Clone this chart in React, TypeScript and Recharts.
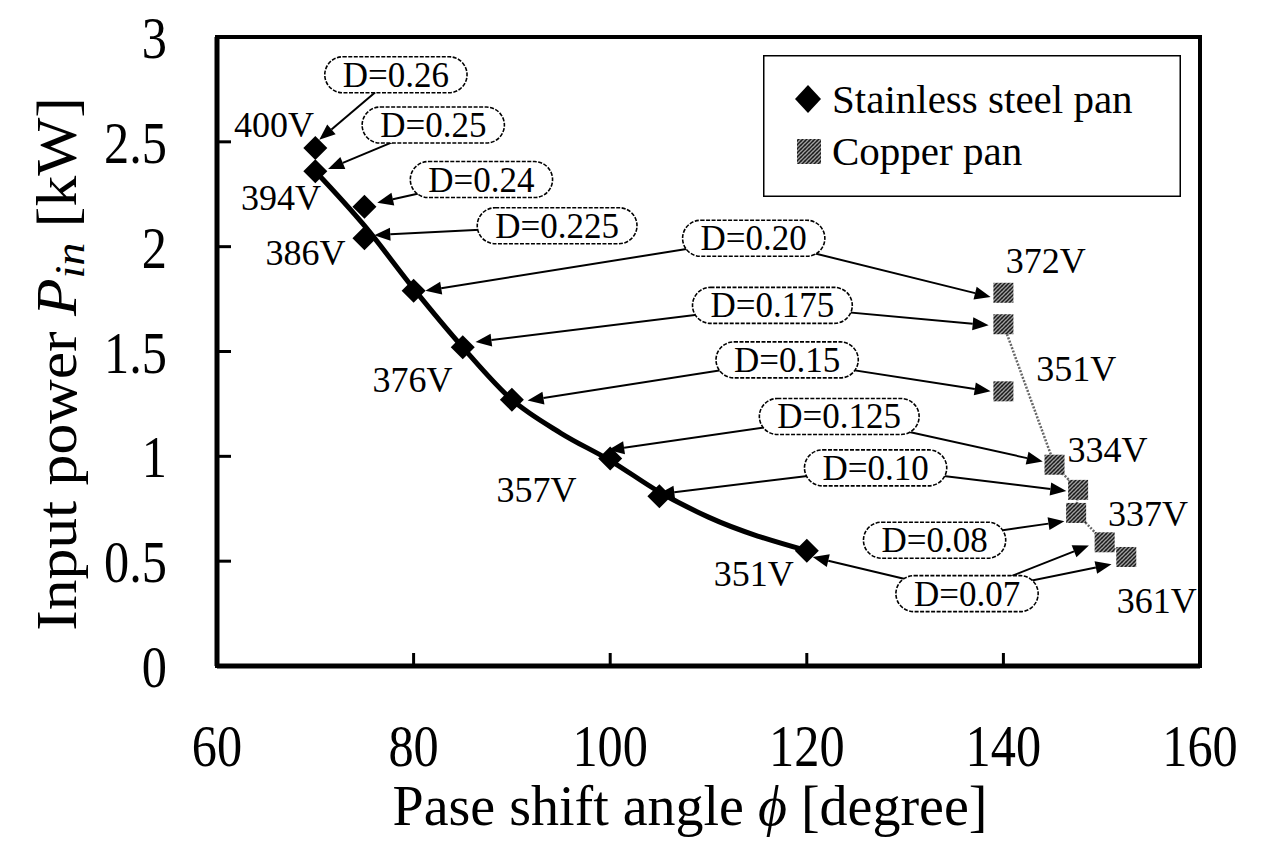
import React from "react";
import {
  ComposedChart,
  Line,
  Scatter,
  XAxis,
  YAxis,
  ReferenceArea,
  ReferenceLine,
  ReferenceDot,
  Legend,
} from "recharts";

const FONT = '"Liberation Serif", "Times New Roman", serif';

// stainless steel pan operating points
const steelAngle = [70, 70, 75, 75, 80, 85, 90, 100, 105, 120];
const steelPower = [2.47, 2.36, 2.19, 2.04, 1.79, 1.52, 1.27, 0.99, 0.81, 0.55];

// trend curve
const steelFitAngle = [70, 75, 80, 85, 90, 95, 100, 105, 110, 120];
const steelFitPower = [2.36, 2.1, 1.8, 1.52, 1.27, 1.11, 0.98, 0.83, 0.71, 0.55];

// copper pan operating points
const copperAngle = [140, 140, 140, 145.2, 147.6, 147.4, 150.3, 152.5];
const copperPower = [1.78, 1.63, 1.31, 0.96, 0.84, 0.73, 0.59, 0.52];

// dotted trend for copper
const copperFitAngle = [140, 145.2, 147.6, 147.4, 150.3, 152.5];
const copperFitPower = [1.63, 0.96, 0.84, 0.73, 0.59, 0.52];

const xTicks = [60, 80, 100, 120, 140, 160];
const yTicks = [0, 0.5, 1, 1.5, 2, 2.5, 3];

// duty ratio callouts (centre in data coords)
const dutyText = ["D=0.26", "D=0.25", "D=0.24", "D=0.225", "D=0.20", "D=0.175", "D=0.15", "D=0.125", "D=0.10", "D=0.08", "D=0.07"];
const dutyAngle = [78.2, 82.0, 86.9, 94.6, 114.6, 116.5, 118.0, 123.3, 127.0, 133.0, 136.3];
const dutyPower = [2.82, 2.58, 2.32, 2.1, 2.04, 1.72, 1.46, 1.19, 0.945, 0.6, 0.345];

// arrows: which callout, and where the tip lands
const arrowFrom = [0, 1, 2, 3, 4, 4, 5, 5, 6, 6, 7, 7, 8, 8, 9, 10, 10, 10];
const arrowTipAngle = [70.4, 71.3, 76.3, 76.0, 81.2, 138.7, 86.3, 138.5, 91.6, 138.7, 99.8, 144.0, 104.9, 146.4, 146.2, 120.6, 148.7, 151.0];
const arrowTipPower = [2.51, 2.37, 2.21, 2.055, 1.79, 1.76, 1.545, 1.625, 1.266, 1.31, 1.03, 0.975, 0.82, 0.835, 0.69, 0.52, 0.575, 0.485];

// supply voltage labels
const voltText = ["400V", "394V", "386V", "376V", "357V", "351V", "372V", "351V", "334V", "337V", "361V"];
const voltAngle = [65.8, 66.5, 69.0, 79.9, 92.5, 114.6, 144.3, 147.4, 150.6, 154.7, 155.6];
const voltPower = [2.58, 2.23, 1.97, 1.366, 0.84, 0.44, 1.93, 1.415, 1.03, 0.726, 0.31];

const steelPts = steelAngle.map((x, i) => ({ x, y: steelPower[i] }));
const steelFit = steelFitAngle.map((x, i) => ({ x, y: steelFitPower[i] }));
const copperPts = copperAngle.map((x, i) => ({ x, y: copperPower[i] }));
const copperFit = copperFitAngle.map((x, i) => ({ x, y: copperFitPower[i] }));

const glyphW: Record<string, number> = { D: 0.722, "=": 0.564, ".": 0.25 };
const textWidth = (s: string, size: number) =>
  s.split("").reduce((w, c) => w + (glyphW[c] ?? 0.5), 0) * size;

const Diamond = ({ cx, cy }: any) => (
  <polygon points={`${cx},${cy - 12} ${cx + 12},${cy} ${cx},${cy + 12} ${cx - 12},${cy}`} fill="#000" />
);

const CopperBox = ({ cx, cy }: any) => (
  <rect x={cx - 10} y={cy - 10} width={20} height={20} fill="url(#cuHatch)" />
);

const Arrow = ({ x1, y1, x2, y2 }: any) => {
  const dx = x2 - x1;
  const dy = y2 - y1;
  const len = Math.hypot(dx, dy) || 1;
  const ux = dx / len;
  const uy = dy / len;
  const bx = x2 - ux * 16;
  const by = y2 - uy * 16;
  return (
    <g>
      <line x1={x1} y1={y1} x2={bx} y2={by} stroke="#000" strokeWidth={2} />
      <polygon
        points={`${x2},${y2} ${bx - uy * 6.5},${by + ux * 6.5} ${bx + uy * 6.5},${by - ux * 6.5}`}
        fill="#000"
      />
    </g>
  );
};

const pill = (text: string) => (p: any) => {
  const w = textWidth(text, 35) + 36;
  return (
    <g>
      <rect
        x={p.cx - w / 2}
        y={p.cy - 18}
        width={w}
        height={36}
        rx={18}
        fill="#fff"
        stroke="#000"
        strokeWidth={1.6}
        strokeDasharray="4 1.5"
      />
      <text x={p.cx} y={p.cy + 12} textAnchor="middle" fontFamily={FONT} fontSize={35}>
        {text}
      </text>
    </g>
  );
};

const voltLabel = (text: string) => (p: any) => (
  <text x={p.cx} y={p.cy + 12} textAnchor="middle" fontFamily={FONT} fontSize={36}>
    {text}
  </text>
);

const XTick = ({ x, y, payload }: any) => (
  <g>
    <line x1={x} y1={y} x2={x} y2={y - 13} stroke="#000" strokeWidth={3} />
    <text
      transform={`translate(${x},${y + 100}) scale(0.84,1)`}
      textAnchor="middle"
      fontFamily={FONT}
      fontSize={60}
    >
      {payload.value}
    </text>
  </g>
);

const YTick = ({ x, y, payload }: any) => (
  <g>
    <line x1={x} y1={y} x2={x + 14} y2={y} stroke="#000" strokeWidth={3} />
    <text
      transform={`translate(${x - 50},${y + 21}) scale(0.84,1)`}
      textAnchor="end"
      fontFamily={FONT}
      fontSize={60}
    >
      {payload.value}
    </text>
  </g>
);

const LegendBox = () => (
  <svg width={418} height={142} style={{ display: "block" }}>
    <defs>
      <pattern id="cuHatchLeg" width="4" height="4" patternUnits="userSpaceOnUse">
        <rect width="4" height="4" fill="#a0a0a0" />
        <path d="M0,4 L4,0" stroke="#1a1a1a" strokeWidth="1.4" />
        <path d="M0,0 L4,4" stroke="#444" strokeWidth="0.7" />
      </pattern>
    </defs>
    <rect x={0.75} y={0.75} width={416.5} height={140.5} fill="#fff" stroke="#000" strokeWidth={1.5} />
    <polygon points="45,30 58,44 45,58 32,44" fill="#000" />
    <rect x={34} y={84} width={24} height={25} fill="url(#cuHatchLeg)" />
    <text x={69} y={58} fontFamily={FONT} fontSize={41}>
      Stainless steel pan
    </text>
    <text x={69} y={110} fontFamily={FONT} fontSize={41}>
      Copper pan
    </text>
  </svg>
);

export default function App() {
  return (
    <div style={{ position: "absolute", left: 0, top: 0, background: "#fff" }}>
      <ComposedChart width={1268} height={843} margin={{ top: 37, right: 68, left: 0, bottom: 0 }}>
        <defs>
          <pattern id="cuHatch" width="4" height="4" patternUnits="userSpaceOnUse">
            <rect width="4" height="4" fill="#a0a0a0" />
            <path d="M0,4 L4,0" stroke="#1a1a1a" strokeWidth="1.4" />
            <path d="M0,0 L4,4" stroke="#444" strokeWidth="0.7" />
          </pattern>
        </defs>
        <XAxis
          type="number"
          dataKey="x"
          domain={[60, 160]}
          ticks={xTicks}
          height={177}
          tickSize={0}
          tickMargin={0}
          tick={<XTick />}
          axisLine={{ stroke: "#000", strokeWidth: 5 }}
          tickLine={false}
          allowDataOverflow
          label={{
            content: () => (
              <text x={690} y={825} textAnchor="middle" fontFamily={FONT} fontSize={56}>
                Pase shift angle <tspan fontStyle="italic">ϕ</tspan> [degree]
              </text>
            ),
          }}
        />
        <YAxis
          type="number"
          dataKey="y"
          domain={[0, 3]}
          ticks={yTicks}
          width={217}
          tickSize={0}
          tickMargin={0}
          tick={<YTick />}
          axisLine={{ stroke: "#000", strokeWidth: 5 }}
          tickLine={false}
          allowDataOverflow
          label={{
            content: () => (
              <text
                transform="translate(76,364) rotate(-90) scale(1.1,1)"
                textAnchor="middle"
                fontFamily={FONT}
                fontSize={56}
              >
                Input power <tspan fontStyle="italic">P</tspan>
                <tspan fontStyle="italic" fontSize={42} dy={8}>
                  in
                </tspan>
                <tspan dy={-8}> [kW]</tspan>
              </text>
            ),
          }}
        />
        <ReferenceArea
          x1={60}
          x2={160}
          y1={0}
          y2={3}
          fill="none"
          stroke="#000"
          strokeWidth={4}
          ifOverflow="visible"
        />
        <Line
          data={steelFit}
          dataKey="y"
          type="monotone"
          stroke="#000"
          strokeWidth={5}
          dot={false}
          isAnimationActive={false}
          legendType="none"
        />
        <Line
          data={copperFit}
          dataKey="y"
          type="linear"
          stroke="#666"
          strokeWidth={2.5}
          strokeDasharray="2 1.5"
          dot={false}
          isAnimationActive={false}
          legendType="none"
        />
        <Scatter name="Stainless steel pan" data={steelPts} dataKey="y" shape={<Diamond />} isAnimationActive={false} />
        <Scatter name="Copper pan" data={copperPts} dataKey="y" shape={<CopperBox />} isAnimationActive={false} />
        {arrowFrom.map((k, i) => (
          <ReferenceLine
            key={`a${i}`}
            segment={[
              { x: dutyAngle[k], y: dutyPower[k] },
              { x: arrowTipAngle[i], y: arrowTipPower[i] },
            ]}
            ifOverflow="visible"
            shape={Arrow}
          />
        ))}
        {dutyText.map((t, i) => (
          <ReferenceDot key={`d${i}`} x={dutyAngle[i]} y={dutyPower[i]} r={1} ifOverflow="visible" shape={pill(t)} />
        ))}
        {voltText.map((t, i) => (
          <ReferenceDot key={`v${i}`} x={voltAngle[i]} y={voltPower[i]} r={1} ifOverflow="visible" shape={voltLabel(t)} />
        ))}
        <Legend
          layout="vertical"
          align="center"
          verticalAlign="middle"
          content={() => <LegendBox />}
          wrapperStyle={{ left: 763, top: 55, width: 418, height: 142 }}
        />
      </ComposedChart>
    </div>
  );
}
